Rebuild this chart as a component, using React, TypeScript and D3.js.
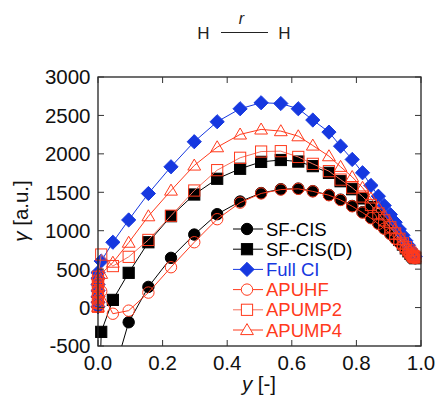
import React from "react";
import * as d3 from "d3";

const W = 435;
const H = 397;

const xValues = [0, 0, 0, 0, 0, 0, 0, 0.01, 0.046, 0.095, 0.156, 0.226, 0.298, 0.369, 0.44, 0.505, 0.566, 0.62, 0.665, 0.715, 0.751, 0.787, 0.819, 0.845, 0.868, 0.886, 0.905, 0.92, 0.933, 0.944, 0.953, 0.961, 0.967, 0.972, 0.976, 0.979, 0.982];

const sfCis = [-5000, -4800, -4600, -4400, -4200, -4000, -3800, -2000, -900, -191, 269, 647, 950, 1215, 1380, 1490, 1540, 1548, 1515, 1465, 1404, 1322, 1241, 1168, 1094, 1030, 960, 900, 848, 800, 760, 726, 700, 680, 665, 653, 643];
const sfCisD = [-3000, -2800, -2600, -2400, -2200, -2000, -1800, -316, 100, 452, 850, 1189, 1471, 1676, 1806, 1896, 1920, 1900, 1840, 1753, 1644, 1540, 1420, 1310, 1205, 1115, 1025, 950, 880, 820, 770, 732, 702, 680, 664, 652, 642];
const fullCi = [10, 70, 140, 220, 300, 380, 455, 605, 850, 1140, 1484, 1832, 2158, 2418, 2587, 2665, 2655, 2587, 2440, 2283, 2100, 1927, 1754, 1589, 1449, 1328, 1211, 1110, 1020, 940, 870, 810, 760, 720, 695, 675, 660];
const apuhf = [10, 50, 100, 160, 220, 270, 310, 212, -80, -40, 195, 525, 850, 1150, 1365, 1485, 1535, 1545, 1512, 1462, 1400, 1318, 1236, 1163, 1090, 1026, 957, 897, 846, 798, 758, 724, 698, 679, 664, 652, 642];
const apump2 = [10, 60, 130, 200, 270, 340, 400, 690, 540, 660, 880, 1195, 1523, 1788, 1949, 2030, 2035, 1960, 1870, 1775, 1665, 1560, 1445, 1335, 1225, 1135, 1045, 965, 895, 835, 785, 745, 715, 690, 672, 660, 650];
const apump4 = [10, 60, 130, 200, 280, 360, 420, 440, 585, 845, 1189, 1523, 1849, 2087, 2253, 2318, 2296, 2230, 2109, 1970, 1832, 1700, 1560, 1420, 1300, 1200, 1100, 1020, 945, 875, 820, 770, 735, 705, 685, 668, 655];

const xTicks = [0, 0.2, 0.4, 0.6, 0.8, 1.0];
const xTickLabels = ["0.0", "0.2", "0.4", "0.6", "0.8", "1.0"];
const yTicks = [-500, 0, 500, 1000, 1500, 2000, 2500, 3000];
const yTickLabels = ["-500", "0", "500", "1000", "1500", "2000", "2500", "3000"];

const BLACK = "#000000";
const BLUE = "#1638e0";
const RED = "#ff3a1c";

type Shape = "circle" | "square" | "diamond" | "triangle";
interface Series {
  name: string;
  values: number[];
  shape: Shape;
  fill: string;
  stroke: string;
  line: string;
  text: string;
}

const series: Series[] = [
  { name: "SF-CIS", values: sfCis, shape: "circle", fill: BLACK, stroke: BLACK, line: BLACK, text: BLACK },
  { name: "SF-CIS(D)", values: sfCisD, shape: "square", fill: BLACK, stroke: BLACK, line: BLACK, text: BLACK },
  { name: "Full CI", values: fullCi, shape: "diamond", fill: BLUE, stroke: BLUE, line: BLUE, text: BLUE },
  { name: "APUHF", values: apuhf, shape: "circle", fill: "none", stroke: RED, line: RED, text: RED },
  { name: "APUMP2", values: apump2, shape: "square", fill: "none", stroke: RED, line: "#f5705c", text: RED },
  { name: "APUMP4", values: apump4, shape: "triangle", fill: "none", stroke: RED, line: RED, text: RED },
];

const L = 98, R = 421, T = 77, B = 346;
const FONT = "'Liberation Sans', Arial, Helvetica, sans-serif";

function Marker({ shape, x, y, fill, stroke }: { shape: Shape; x: number; y: number; fill: string; stroke: string }) {
  const sw = 1;
  if (shape === "circle") return <circle cx={x} cy={y} r={5.7} fill={fill} stroke={stroke} strokeWidth={sw} />;
  if (shape === "square") return <rect x={x - 5.6} y={y - 5.6} width={11.2} height={11.2} fill={fill} stroke={stroke} strokeWidth={sw} />;
  if (shape === "diamond") {
    const s = 7.1;
    return <path d={`M${x},${y - s}L${x + s},${y}L${x},${y + s}L${x - s},${y}Z`} fill={fill} stroke={stroke} strokeWidth={sw} />;
  }
  const s = 6.4;
  return <path d={`M${x},${y - s}L${x + s},${y + s * 0.72}L${x - s},${y + s * 0.72}Z`} fill={fill} stroke={stroke} strokeWidth={sw} />;
}

export default function App() {
  const x = d3.scaleLinear().domain([0, 1]).range([L, R]);
  const y = d3.scaleLinear().domain([-500, 3000]).range([B, T]);
  const line = d3.line<number>().x((_, i) => x(xValues[i])).y((v) => y(v));

  const legendX = 247;
  const legendY0 = 229;
  const legendDy = 20.2;

  return (
    <svg width={W} height={H} style={{ position: "absolute", left: 0, top: 0 }} fontFamily={FONT}>
      <rect width={W} height={H} fill="#fff" />
      <defs>
        <clipPath id="plotclip">
          <rect x={L - 10} y={T} width={R - L + 20} height={B - T} />
        </clipPath>
      </defs>

      {/* molecule diagram */}
      <text x={203.5} y={38.5} fontSize={17} textAnchor="middle" fill="#222">H</text>
      <line x1={221} x2={268} y1={32.5} y2={32.5} stroke="#222" strokeWidth={1} />
      <text x={241.5} y={24} fontSize={16} fontStyle="italic" textAnchor="middle" fill="#222">r</text>
      <text x={284.5} y={38.5} fontSize={17} textAnchor="middle" fill="#222">H</text>

      {/* data */}
      <g clipPath="url(#plotclip)">
        {series.map((s) => (
          <g key={s.name}>
            <path d={line(s.values) || ""} fill="none" stroke={s.line} strokeWidth={1} />
            {s.values.map((v, i) =>
              v >= -560 ? <Marker key={i} shape={s.shape} x={x(xValues[i])} y={y(v)} fill={s.fill} stroke={s.stroke} /> : null
            )}
          </g>
        ))}
      </g>

      {/* legend */}
      <g>
        {series.map((s, i) => {
          const ly = legendY0 + i * legendDy;
          return (
            <g key={s.name}>
              <line x1={233} x2={263} y1={ly} y2={ly} stroke={s.line} strokeWidth={1} />
              <Marker shape={s.shape} x={legendX} y={ly} fill={s.fill === "none" ? "#fff" : s.fill} stroke={s.stroke} />
              <text x={266} y={ly} dy="0.36em" fontSize={18.5} fill={s.text}>{s.name}</text>
            </g>
          );
        })}
      </g>

      {/* frame */}
      <rect x={L} y={T} width={R - L} height={B - T} fill="none" stroke="#222" strokeWidth={1.3} />
      {xTicks.map((t) => (
        <g key={"x" + t}>
          <line x1={x(t)} x2={x(t)} y1={B} y2={B - 6} stroke="#333" strokeWidth={1} />
          <line x1={x(t)} x2={x(t)} y1={T} y2={T + 6} stroke="#333" strokeWidth={1} />
        </g>
      ))}
      {yTicks.map((t) => (
        <g key={"y" + t}>
          <line x1={L} x2={L + 6} y1={y(t)} y2={y(t)} stroke="#333" strokeWidth={1} />
          <line x1={R} x2={R - 6} y1={y(t)} y2={y(t)} stroke="#333" strokeWidth={1} />
        </g>
      ))}

      {/* tick labels */}
      {xTicks.map((t, i) => (
        <text key={"xl" + t} x={x(t)} y={369.5} fontSize={20.5} textAnchor="middle" fill="#111">{xTickLabels[i]}</text>
      ))}
      {yTicks.map((t, i) => (
        <text key={"yl" + t} x={90.5} y={y(t)} dy="0.36em" fontSize={20.5} textAnchor="end" fill="#111">{yTickLabels[i]}</text>
      ))}

      {/* axis titles */}
      <text x={259} y={391} fontSize={20.5} textAnchor="middle" fill="#111">
        <tspan fontStyle="italic">y</tspan> [-]
      </text>
      <text transform={`translate(28,211) rotate(-90)`} fontSize={20.5} textAnchor="middle" fill="#111">
        <tspan fontStyle="italic">γ</tspan> [a.u.]
      </text>
    </svg>
  );
}
